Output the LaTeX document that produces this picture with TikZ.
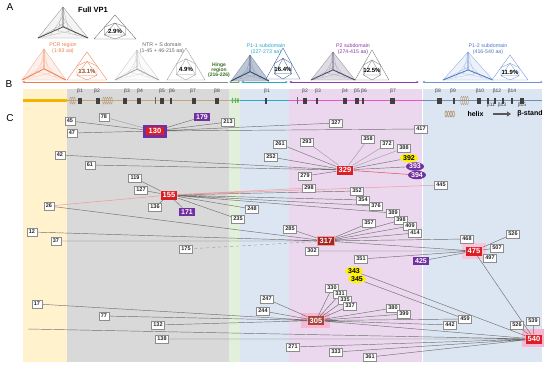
\documentclass[tikz,border=0pt]{standalone}
\usepackage{fontspec}
\setmainfont{Liberation Sans}
\usetikzlibrary{shapes.geometric,arrows.meta}
\pgfdeclarelayer{bg}\pgfdeclarelayer{edges}
\pgfsetlayers{bg,edges,main}
\definecolor{myred}{HTML}{DC1E26}
\definecolor{mypurple}{HTML}{7030A0}
\definecolor{darkredC}{HTML}{A3261E}
\definecolor{brownred}{HTML}{A8453A}
\definecolor{pinkbg}{HTML}{F7B6D2}
\definecolor{orangeC}{HTML}{EE7D4E}
\definecolor{cyanC}{HTML}{2BA8C8}
\definecolor{purpC}{HTML}{8E3AA8}
\definecolor{blueC}{HTML}{4A78C8}
\definecolor{greenC}{HTML}{3B6E22}
\definecolor{regY}{HTML}{FFF2CC}
\definecolor{regG}{HTML}{D9D9D9}
\definecolor{regH}{HTML}{E2EFDA}
\definecolor{regB}{HTML}{DCE5F2}
\definecolor{regP}{HTML}{EBD7EE}
\definecolor{lineg}{HTML}{707070}
\definecolor{tanC}{HTML}{C4A47A}
\definecolor{darkblueC}{HTML}{22406E}
\definecolor{darkpurpC}{HTML}{4E4066}
\colorlet{fullC}{black!70}
\colorlet{ntrC}{black!35}
\newcommand\fsz[1]{\fontsize{#1}{#1}\selectfont}
% apex x, apex y, half width, height, colour, fill strength
\newcommand\mytripod[6]{%
 \begin{scope}[shift={(#1,#2)}]
 \fill[#5!#6] (0,0) -- (-#3,#4) -- (#3,#4) -- cycle;
 \draw[#5!60, line width=0.35pt] (0,0) -- (-#3,#4) -- (#3,#4) -- cycle;
 \draw[#5!50, line width=0.2pt] (0,0) -- ({-0.2*#3},{0.8*#4}) (0,0) -- ({0.25*#3},{0.85*#4})
   (-#3,#4) -- ({0.1*#3},{0.5*#4}) (#3,#4) -- ({-0.15*#3},{0.55*#4})
   (-#3,#4) -- ({0.4*#3},{0.75*#4}) (#3,#4) -- ({-0.4*#3},{0.72*#4})
   (0,{0.3*#4}) -- ({-0.5*#3},{0.9*#4}) (0,{0.35*#4}) -- ({0.55*#3},{0.92*#4});
 \draw[#5, line width=0.8pt] (0,0) -- (0,{0.64*#4}) (-#3,#4) -- (0,{0.64*#4}) (#3,#4) -- (0,{0.64*#4});
 \end{scope}}
% apex x, apex y, half width, height, colour, text, text colour
\newcommand\mylmtri[7]{%
 \begin{scope}[shift={(#1,#2)}]
 \fill[white] (0,0) -- (-#3,#4) -- (#3,#4) -- cycle;
 \draw[#5, line width=0.35pt] (0,0) -- (-#3,#4) -- (#3,#4) -- cycle;
 \draw[#5, line width=0.3pt] (0,{#4/3}) -- ({-#3/2},{5*#4/6}) -- ({#3/2},{5*#4/6}) -- cycle;
 \draw[#5, line width=0.3pt] (0,{#4/3}) -- ({-#3/2},{#4/2}) (0,{#4/3}) -- ({#3/2},{#4/2})
   ({-#3/2},{5*#4/6}) -- ({-#3/2},{#4/2}) ({#3/2},{5*#4/6}) -- ({#3/2},{#4/2})
   ({-#3/2},{5*#4/6}) -- (0,#4) ({#3/2},{5*#4/6}) -- (0,#4);
 \node[font=\fsz{6}\bfseries, text=#7, inner sep=0pt] at (0,{0.68*#4}) {#6};
 \end{scope}}
\begin{document}
\begin{tikzpicture}[x=1pt,y=-1pt,
  lab/.style={draw=black!45, fill=white, line width=0.3pt, inner xsep=2pt, inner ysep=0pt,
    minimum height=7.5pt, font=\fsz{5.5}\bfseries, text=black!85},
  rbox/.style={fill=myred, text=white, inner xsep=2.2pt, inner ysep=0pt, minimum height=9pt,
    font=\fsz{7.5}\bfseries},
  pbox/.style={fill=mypurple, text=white, inner xsep=2.2pt, inner ysep=0pt, minimum height=8.5pt,
    font=\fsz{7}\bfseries},
  yel/.style={ellipse, fill=yellow, inner sep=0pt, minimum width=18pt, minimum height=8.5pt,
    font=\fsz{7}\bfseries},
  pel/.style={ellipse, fill=mypurple, text=white, inner sep=0pt, minimum width=18pt,
    minimum height=8.5pt, font=\fsz{7}\bfseries},
  ln/.style={draw=lineg, line width=0.45pt},
  lnl/.style={draw=lineg!70, line width=0.4pt},
  lnr/.style={draw=myred!80, line width=0.5pt},
  bl/.style={font=\fsz{5}, text=black!75, inner sep=0pt},
  strand/.style={fill=black!75},
  helixc/.style={draw=tanC!90!black, line width=0.35pt},
  dom/.style={font=\fsz{5.3}, inner sep=0pt, align=center},
  letter/.style={font=\fsz{10}, inner sep=0pt}
]
\useasboundingbox (0,0) rectangle (550,368);

% ---------- panel letters
\node[letter] (LA) at (10,7) {A};
\node[letter] (LB) at (9,84) {B};
\node[letter] (LC) at (10,118) {C};

% ---------- section A
\mytripod{63}{7}{25}{31}{fullC}{6}
\mylmtri{115}{15}{21}{24}{black!60}{2.9\%}{black}
\node[font=\fsz{7.5}\bfseries, inner sep=0pt] (fullvp) at (93,10) {Full VP1};

\mytripod{44}{49}{22}{31}{orangeC}{12}
\mylmtri{87}{52}{20}{28}{orangeC}{13.1\%}{orangeC!60!black}
\node[dom, text=orangeC] (pcr) at (63,48) {PCR region\\(1-93 aa)};

\mytripod{137}{50}{22}{30}{ntrC}{4}
\mylmtri{186}{48}{19}{32}{black!40}{4.9\%}{black}
\node[dom, text=black!60] (ntr) at (162,48) {NTR + S domain\\(1-45 + 46-215 aa)};

\node[dom, text=greenC, font=\fsz{5}\bfseries] (hinge) at (219,70) {Hinge\\region\\(216-226)};

\mytripod{250}{55}{19}{26}{darkblueC}{30}
\mylmtri{283}{48}{17}{31}{blueC!70!black}{16.4\%}{black}
\node[dom, text=cyanC] (p11) at (266,49) {P1-1 subdomain\\(227-273 aa)};

\mytripod{333}{52}{22}{28}{darkpurpC}{18}
\mylmtri{372}{50}{17}{30}{black!55}{12.5\%}{black}
\node[dom, text=purpC] (p2) at (353,49) {P2 subdomain\\(274-415 aa)};

\mytripod{468}{52}{25}{28}{blueC}{10}
\mylmtri{510}{55}{18}{25}{blueC!80}{11.9\%}{black}
\node[dom, text=blueC] (p12) at (488,49) {P1-2 subdomain\\(416-540 aa)};

% domain range arrows
\draw[black!45, line width=0.8pt] (107,82) -- (228,82);
\draw[orangeC, line width=0.9pt, {Latex[length=2.5pt,width=2.2pt]}-] (22,82) -- (107,82);
\draw[greenC!70, line width=0.8pt, {Latex[length=2pt,width=2pt]}-{Latex[length=2pt,width=2pt]}] (229,82) -- (240,82);
\draw[cyanC, line width=0.8pt, {Latex[length=2.5pt,width=2.2pt]}-{Latex[length=2.5pt,width=2.2pt]}] (241,82) -- (288,82);
\draw[purpC, line width=0.8pt, {Latex[length=2.5pt,width=2.2pt]}-{Latex[length=2.5pt,width=2.2pt]}] (289,82) -- (419,82);
\draw[blueC!80, line width=0.8pt, {Latex[length=2.5pt,width=2.2pt]}-{Latex[length=2.5pt,width=2.2pt]}] (422,82) -- (543,82);

% ---------- region backgrounds (section B and C)
\begin{pgfonlayer}{bg}
\fill[white] (0,0) rectangle (550,368);
\fill[regY] (23,89) rectangle (67,362);
\fill[regG] (67,89) rectangle (229,362);
\fill[regH] (229,89) rectangle (240,362);
\fill[regB] (240,89) rectangle (289,362);
\fill[regP] (289,89) rectangle (422,362);
\fill[regB] (422,89) rectangle (542,362);
\draw[white, line width=0.8pt] (422,89) -- (422,362);
% highlight backgrounds
\fill[pinkbg] (301,313) rectangle (330,328);
\fill[pinkbg] (522,329) rectangle (544,347);
\fill[pinkbg!80] (462,243) rectangle (486,259);
\end{pgfonlayer}

% ---------- section B: chain
\draw[line width=2.6pt, draw={rgb,255:red,242;green,182;blue,0}] (23,100.5) -- (67,100.5);
\draw[line width=1.6pt, draw=tanC] (67,100.5) -- (229,100.5);
\draw[line width=1.4pt, draw=green!45!black!40] (229,100.5) -- (240,100.5);
\draw[line width=1pt, draw=cyanC] (240,100.5) -- (289,100.5);
\draw[line width=1.5pt, draw={rgb,255:red,240;green,80;blue,208}] (289,100.5) -- (422,100.5);
\draw[line width=1.5pt, draw={rgb,255:red,112;green,144;blue,176}] (422,100.5) -- (542,100.5);
% helices
\foreach \x in {70.5,72.5,74.5} \draw[helixc] (\x,100.5) ellipse (0.8 and 3.6);
\foreach \x in {103.5,105.5,107.5,109.5,111.5} \draw[helixc] (\x,100.5) ellipse (0.8 and 3.6);
\draw[black!60, line width=0.5pt] (155,97) -- (155,104);
\foreach \x in {232.5,235.5,238} \draw[helixc, draw=green!50!black] (\x,100.5) ellipse (0.6 and 2);
\draw[black!60, line width=0.5pt] (297,97) -- (297,104);
\foreach \x in {461.5,463.5,465.5,467.5} \draw[helixc] (\x,100.5) ellipse (0.9 and 4.2);
% strands
\foreach \x/\w in {80/3.5,98/3.5,125/3.5,139/3.5,162/3.5,171/1.6,194/3.5,217/4.5,266/1.8,305/3.5,317/2.2,345/4,357/3.5,363/1.6,392/5,439/5,454/1.8,479/4.5,488/2.5,495/2,503/1.8,512/2,522/3.5}
  \fill[strand] ({\x-\w/2},97.5) rectangle ({\x+\w/2},103.5);
% strand labels
\foreach \x/\t in {80/1,97/2,127/3,140/4,162/5,172/6,193/7,217/8,267/1,305/2,318/3,345/4,357/5,364/6,393/7,438/8,453/9,480/10,497/12,512/14}
  \node[bl] (bt\x) at (\x,91) {β\t};
\foreach \x/\t in {491/11,502/13,522/15}
  \node[bl] (bb\x) at (\x,105.5) {β\t};
% legend
\foreach \x in {446,448.5,451,453.5} \draw[helixc, line width=0.6pt] (\x,114) ellipse (1 and 3);
\node[font=\fsz{7}\bfseries, inner sep=0pt] (lhelix) at (475.5,114) {helix};
\coordinate (ars) at (493,114);
\coordinate (are) at (511,114);
\draw[black!65, line width=1.8pt, -{Triangle[length=4pt,width=5pt]}] (ars) -- (are);
\node[font=\fsz{7}\bfseries, inner sep=0pt] (lstand) at (530,114) {β-stand};

% ---------- section C nodes
\node[lab] (n45) at (70,121) {45};
\node[lab] (n78) at (104,117) {78};
\node[lab] (n47) at (72,133) {47};
\node[lab] (n213) at (228,122) {213};
\node[lab] (n42) at (60,155) {42};
\node[lab] (n61) at (90,165) {61};
\node[lab] (n119) at (135,178) {119};
\node[lab] (n127) at (141,190) {127};
\node[lab] (n136) at (155,207) {136};
\node[lab] (n248) at (252,209) {248};
\node[lab] (n235) at (238,219) {235};
\node[lab] (n26) at (49,206) {26};
\node[lab] (n12) at (32,232) {12};
\node[lab] (n327) at (336,123) {327};
\node[lab] (n417) at (421,129) {417};
\node[lab] (n261) at (280,144) {261};
\node[lab] (n293) at (307,142) {293};
\node[lab] (n358) at (368,139) {358};
\node[lab] (n372) at (387,144) {372};
\node[lab] (n388) at (404,148) {388};
\node[lab] (n252) at (271,157) {252};
\node[lab] (n279) at (305,176) {279};
\node[lab] (n445) at (441,185) {445};
\node[lab] (n298) at (309,188) {298};
\node[lab] (n352) at (357,191) {352};
\node[lab] (n354) at (363,200) {354};
\node[lab] (n376) at (376,206) {376};
\node[lab] (n389) at (393,213) {389};
\node[lab] (n398) at (401,220) {398};
\node[lab] (n357) at (369,223) {357};
\node[lab] (n409) at (410,226) {409};
\node[lab] (n414) at (415,233) {414};
\node[lab] (n285) at (290,229) {285};
\node[lab] (n526a) at (513,234) {526};
\node[lab] (n468) at (467,239) {468};
\node[lab] (n302) at (312,251) {302};
\node[lab] (n507) at (497,248) {507};
\node[lab] (n497) at (490,258) {497};
\node[lab] (n351) at (361,259) {351};
\node[lab] (n330) at (332,288) {330};
\node[lab] (n331) at (340,294) {331};
\node[lab] (n335) at (345,300) {335};
\node[lab] (n337) at (350,306) {337};
\node[lab] (n380) at (393,308) {380};
\node[lab] (n399) at (404,314) {399};
\node[lab] (n459) at (465,319) {459};
\node[lab] (n442) at (450,325) {442};
\node[lab] (n526b) at (517,325) {526};
\node[lab] (n539) at (533,321) {539};
\node[lab] (n271) at (293,347) {271};
\node[lab] (n333) at (336,352) {333};
\node[lab] (n361) at (370,357) {361};
\node[lab] (n247) at (267,299) {247};
\node[lab] (n244) at (263,311) {244};
\node[lab] (n37) at (56,241) {37};
\node[lab] (n175) at (186,249) {175};
\node[lab] (n17) at (37,304) {17};
\node[lab] (n77) at (104,316) {77};
\node[lab] (n132) at (158,325) {132};
\node[lab] (n138) at (162,339) {138};
\coordinate (c0) at (28,329);

\node[rbox, draw=mypurple, line width=2.5pt, inner xsep=4pt, minimum height=10.5pt] (n130) at (155,131) {130};
\node[pbox] (n179) at (202,117) {179};
\node[rbox] (n155) at (169,195) {155};
\node[pbox] (n171) at (187,212) {171};
\node[rbox] (n329) at (345,170) {329};
\node[yel] (n392) at (409,158) {392};
\node[pel] (n393) at (415,166.5) {393};
\node[pel] (n394) at (417,175) {394};
\node[rbox, fill=darkredC, draw=myred!45, line width=1.2pt] (n317) at (326,241) {317};
\node[rbox] (n475) at (474,251) {475};
\node[pbox] (n425) at (421,261) {425};
\node[yel] (n343) at (354,271) {343};
\node[yel] (n345) at (357,279) {345};
\node[rbox, fill=brownred] (n305) at (316,320.5) {305};
\node[rbox] (n540) at (534,339) {540};

% ---------- section C connectors
\begin{pgfonlayer}{edges}
\draw[ln] (n130)--(n45) (n130)--(n47) (n130)--(n179) (n130)--(n213) (n130)--(n327) (n130)--(n417);
\draw[lnl] (n130)--(n78);
\draw[ln] (n155)--(n119) (n155)--(n127) (n155)--(n136) (n155)--(n171) (n155)--(n248) (n155)--(n235)
  (n155)--(n352) (n155)--(n354) (n155)--(n376) (n155)--(n389);
\draw[lnr, draw=myred!45] (n155)--(n26) (n155)--(n298) (n155)--(n445);
\draw[ln] (n329)--(n42) (n329)--(n61) (n329)--(n261) (n329)--(n252) (n329)--(n279)
  (n329)--(n392) (n329)--(n393);
\draw[lnl] (n329)--(n293) (n329)--(n358) (n329)--(n372) (n329)--(n388);
\draw[lnr] (n329)--(n394);
\draw[ln] (n317)--(n285) (n317)--(n357) (n317)--(n398) (n317)--(n409) (n317)--(n414)
  (n317)--(n12) (n317)--(n37) (n317)--(n26) (n317)--(n468);
\draw[lnl, dashed] (n317)--(n175);
\draw[ln] (n475)--(n317) (n475)--(n302) (n475)--(n351) (n475)--(n425) (n475)--(n526a)
  (n475)--(n507) (n475)--(n497) (n475)--(n540);
\draw[ln] (n305)--(n247) (n305)--(n244) (n305)--(n330) (n305)--(n331) (n305)--(n335)
  (n305)--(n337) (n305)--(n380) (n305)--(n399) (n305)--(n459) (n305)--(n442)
  (n305)--(n17) (n305)--(n77) (n305)--(n132) (n305)--(n540);
\draw[ln] (n540)--(n526b) (n540)--(n539) (n540)--(n343) (n540)--(n138) (n540)--(c0)
  (n540)--(n271) (n540)--(n333) (n540)--(n361);
\draw[ln] (n345)--(n459);
\end{pgfonlayer}
\end{tikzpicture}
\end{document}
